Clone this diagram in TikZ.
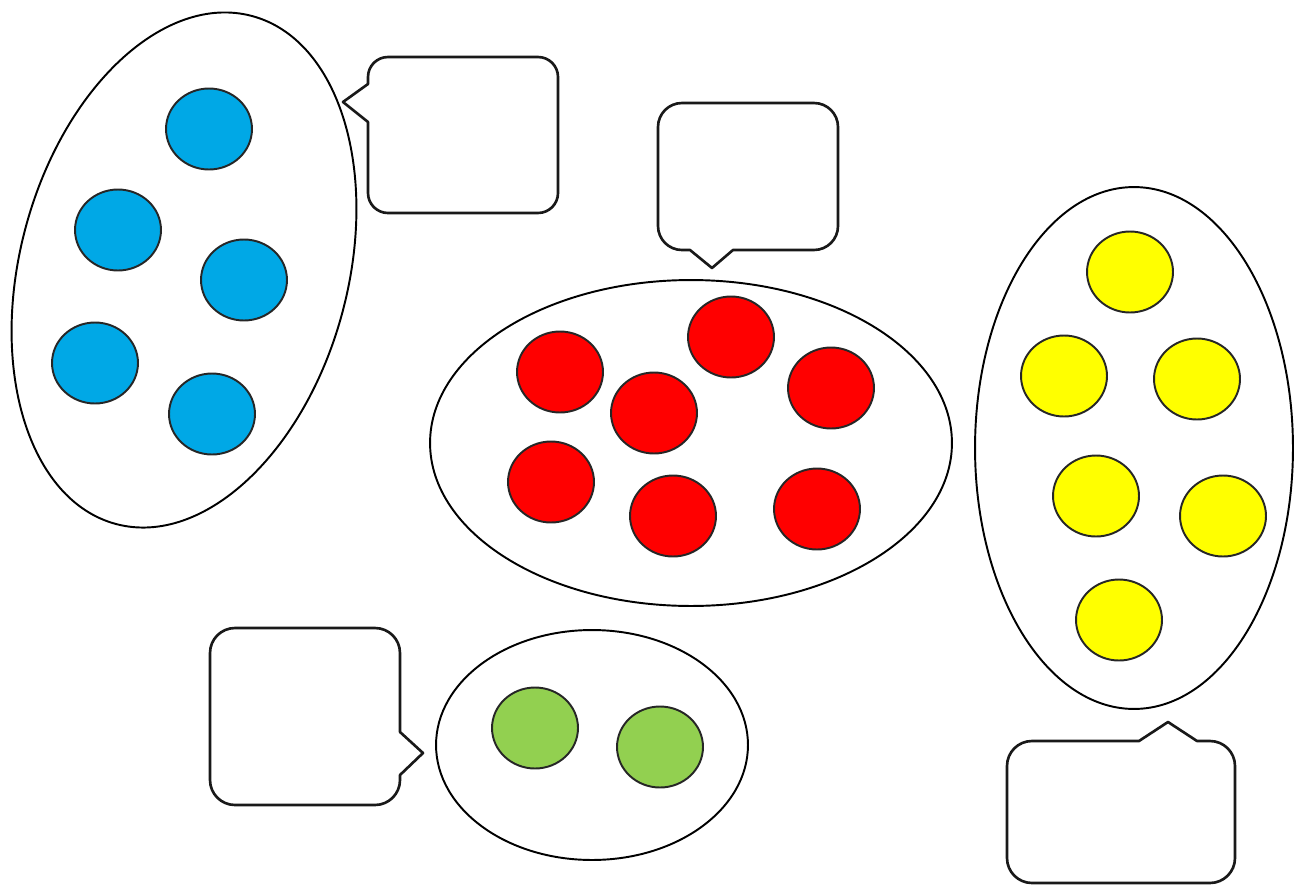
\documentclass[tikz,border=0pt]{standalone}
\usepackage{xcolor}
\usepackage{tikz}
\usetikzlibrary{calc}
\definecolor{beadblue}{HTML}{00A8E6}
\definecolor{beadred}{HTML}{FF0000}
\definecolor{beadyellow}{HTML}{FFFF00}
\definecolor{beadgreen}{HTML}{92D050}
\newcommand{\bead}[3]{%
  \draw[fill=#3, draw=black!85, line width=1.1pt] (#1,#2) ellipse [x radius=0.86cm, y radius=0.81cm];%
}
\tikzset{
  ring/.style={draw=black, line width=1.1pt, fill=white},
  bubble/.style={draw=black!90, line width=1.5pt, fill=white, line join=round}
}

\begin{document}
\begin{tikzpicture}[x=0.02cm, y=-0.02cm]
    \useasboundingbox (0,0) rectangle (1295,886);

    % Blue set (5), tilted
    \begin{scope}[shift={(184,270)}, rotate=-15]
      \draw[ring] (0,0) ellipse [x radius=3.28cm, y radius=5.26cm];
    \end{scope}
    \foreach \x/\y in {209/129, 118/230, 244/280, 95/363, 212/414} {
      \bead{\x}{\y}{beadblue}
    }

    % Red set (7)
    \draw[ring] (691,443) ellipse [x radius=5.22cm, y radius=3.26cm];
    \foreach \x/\y in {560/372, 731/337, 654/413, 831/388, 551/482, 673/516, 817/509} {
      \bead{\x}{\y}{beadred}
    }

    % Yellow set (6)
    \draw[ring] (1134,448) ellipse [x radius=3.18cm, y radius=5.22cm];
    \foreach \x/\y in {1130/272, 1064/376, 1197/379, 1096/496, 1223/516, 1119/620} {
      \bead{\x}{\y}{beadyellow}
    }

    % Green set (2)
    \draw[ring] (592,745) ellipse [x radius=3.12cm, y radius=2.3cm];
    \foreach \x/\y in {535/728, 660/747} {
      \bead{\x}{\y}{beadgreen}
    }

    % Empty speech bubbles
    \draw[bubble] (388,57) -- (538,57) arc[start angle=90, end angle=0, radius=0.4cm]
      -- (558,193) arc[start angle=0, end angle=-90, radius=0.4cm]
      -- (388,213) arc[start angle=270, end angle=180, radius=0.4cm]
      -- (368,122) -- (343,102) -- (368,84)
      -- (368,77) arc[start angle=180, end angle=90, radius=0.4cm] -- cycle;
    \draw[bubble] (682,103) -- (814,103) arc[start angle=90, end angle=0, radius=0.48cm]
      -- (838,226) arc[start angle=0, end angle=-90, radius=0.48cm]
      -- (733,250) -- (712,268) -- (690,250)
      -- (682,250) arc[start angle=270, end angle=180, radius=0.48cm]
      -- (658,127) arc[start angle=180, end angle=90, radius=0.48cm] -- cycle;
    \draw[bubble] (235,628) -- (375,628) arc[start angle=90, end angle=0, radius=0.5cm]
      -- (400,732) -- (423,753) -- (400,775)
      -- (400,780) arc[start angle=0, end angle=-90, radius=0.5cm]
      -- (235,805) arc[start angle=270, end angle=180, radius=0.5cm]
      -- (210,653) arc[start angle=180, end angle=90, radius=0.5cm] -- cycle;
    \draw[bubble] (1032,741) -- (1139,741) -- (1168,722) -- (1197,741)
      -- (1210,741) arc[start angle=90, end angle=0, radius=0.5cm]
      -- (1235,858) arc[start angle=0, end angle=-90, radius=0.5cm]
      -- (1032,883) arc[start angle=270, end angle=180, radius=0.5cm]
      -- (1007,766) arc[start angle=180, end angle=90, radius=0.5cm] -- cycle;
  \end{tikzpicture}
\end{document}
